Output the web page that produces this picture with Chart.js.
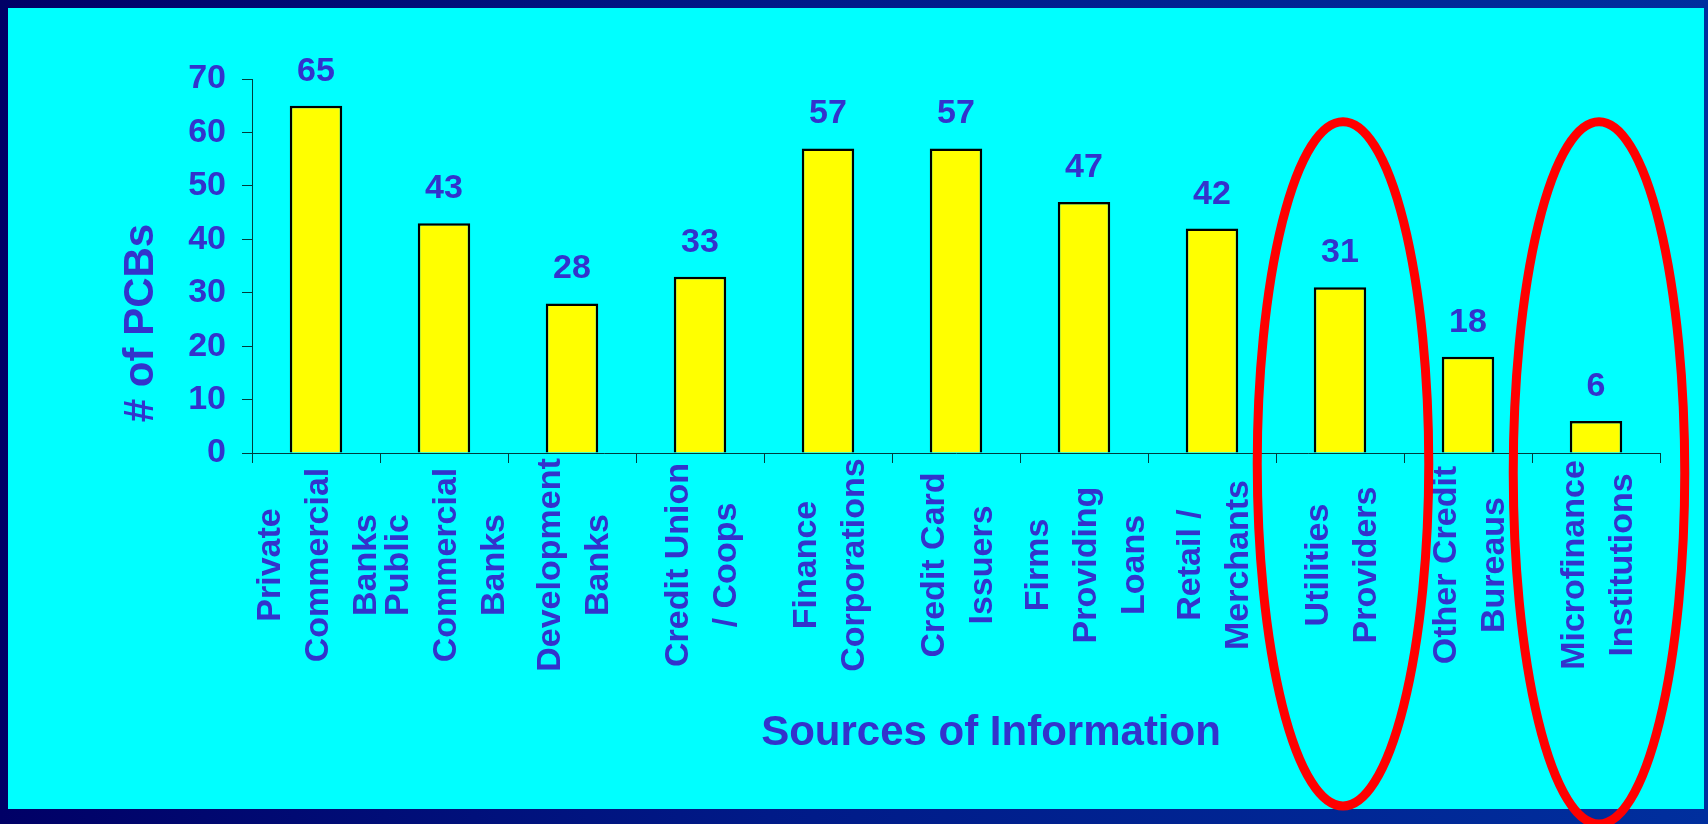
<!DOCTYPE html>
<html>
<head>
<meta charset="utf-8">
<script src="https://cdn.jsdelivr.net/npm/chart.js@4/dist/chart.umd.min.js"></script>
<style>
html,body{margin:0;padding:0;}
body{width:1708px;height:824px;overflow:hidden;position:relative;
  background:linear-gradient(to right,#000066 0%,#001a88 45%,#002f9e 100%);}
#panel{position:absolute;left:8px;top:8px;width:1696px;height:801px;background:#00ffff;}
#wrap{position:absolute;left:0;top:0;width:1708px;height:824px;}
</style>
</head>
<body>
<div id="panel"></div>
<div id="wrap"><canvas id="chart"></canvas></div>
<script>
/* data */
let categories = [
    ["Private", "Commercial", "Banks"],
    ["Public", "Commercial", "Banks"],
    ["Development", "Banks"],
    ["Credit Union", "/ Coops"],
    ["Finance", "Corporations"],
    ["Credit Card", "Issuers"],
    ["Firms", "Providing", "Loans"],
    ["Retail /", "Merchants"],
    ["Utilities", "Providers"],
    ["Other Credit", "Bureaus"],
    ["Microfinance", "Institutions"]
];
let counts = [65, 43, 28, 33, 57, 57, 47, 42, 31, 18, 6];
let yTicks = [0, 10, 20, 30, 40, 50, 60, 70];
let yTitle = "# of PCBs";
let xTitle = "Sources of Information";
let circled = [8, 10];   // categories ringed in red

const FONT = '"Liberation Sans", Arial, sans-serif';
const BLUE = "#3333cc";
const AXIS = "#003c3c";

/* text + red rings drawn on top */
const extras = {
    id: "extras",
    afterDatasetsDraw(chart){
        let ctx = chart.ctx;
        ctx.save();
        ctx.fillStyle = BLUE;
        ctx.font = "bold 34px " + FONT;
        ctx.textAlign = "center";
        ctx.textBaseline = "alphabetic";
        chart.getDatasetMeta(0).data.forEach((bar, i) => {
            ctx.fillText(String(counts[i]), bar.x, bar.y - 25);
        });
        ctx.restore();
    },
    afterDraw(chart){
        let ctx = chart.ctx, xs = chart.scales.x, ys = chart.scales.y;
        ctx.save();
        ctx.fillStyle = BLUE;
        ctx.textAlign = "center";
        ctx.textBaseline = "alphabetic";

        // rotated category labels, lines centred on each other
        ctx.font = "bold 34px " + FONT;
        categories.forEach((lines, i) => {
            let cx = xs.getPixelForValue(i);
            lines.forEach((t, j) => {
                let lx = cx + (j - (lines.length - 1) / 2) * 48 + 12;
                ctx.save();
                ctx.translate(lx, 565);
                ctx.rotate(-Math.PI / 2);
                ctx.fillText(t, 0, 0);
                ctx.restore();
            });
        });

        // axis titles
        ctx.font = "bold 42px " + FONT;
        ctx.save();
        ctx.translate(153, 323);
        ctx.rotate(-Math.PI / 2);
        ctx.fillText(yTitle, 0, 0);
        ctx.restore();
        ctx.fillText(xTitle, 991, 745);

        // red rings
        let step = xs.getPixelForValue(1) - xs.getPixelForValue(0);
        ctx.strokeStyle = "#ff0000";
        ctx.lineWidth = 9;
        circled.forEach((c, k) => {
            let cx = xs.getPixelForValue(c) + 3;
            let top = ys.getPixelForValue(62);
            let bottom = k === 0 ? 806 : 824;
            ctx.beginPath();
            ctx.ellipse(cx, (top + bottom) / 2, step * 0.67, (bottom - top) / 2, 0, 0, Math.PI * 2);
            ctx.stroke();
        });
        ctx.restore();
    }
};

new Chart(document.getElementById("chart"), {
    type: "bar",
    data: {
        labels: categories,
        datasets: [{
            data: counts,
            backgroundColor: "#ffff00",
            borderColor: "#000000",
            borderWidth: 2.5,
            categoryPercentage: 1,
            barPercentage: 0.41
        }]
    },
    options: {
        responsive: true,
        maintainAspectRatio: false,
        animation: false,
        layout: { padding: { top: 79, right: 48, left: 0, bottom: 0 } },
        plugins: { legend: { display: false }, tooltip: { enabled: false } },
        scales: {
            x: {
                ticks: { display: false },
                grid: { drawOnChartArea: false, tickLength: 10, color: AXIS, offset: true },
                border: { color: AXIS, width: 1 },
                afterFit(s){ s.height = 371; }
            },
            y: {
                min: yTicks[0],
                max: yTicks[yTicks.length - 1],
                afterBuildTicks(s){ s.ticks = yTicks.map(v => ({ value: v })); },
                ticks: { padding: 16, color: BLUE, font: { family: FONT, size: 34, weight: "bold" } },
                grid: { drawOnChartArea: false, tickLength: 10, color: AXIS },
                border: { color: AXIS, width: 1 },
                afterFit(s){ s.width = 252; }
            }
        }
    },
    plugins: [extras]
});
</script>
</body>
</html>
